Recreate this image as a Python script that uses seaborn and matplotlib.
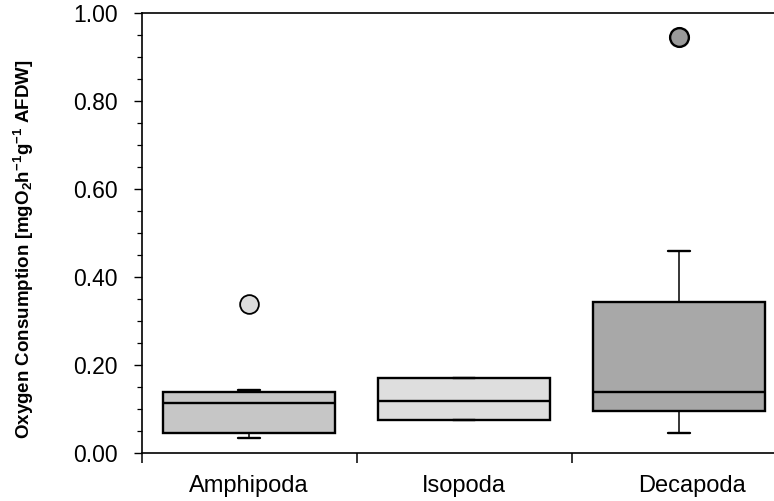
import numpy as np
import pandas as pd
import matplotlib
matplotlib.use("Agg")
import matplotlib.pyplot as plt
from matplotlib.ticker import FixedLocator, MultipleLocator, FormatStrFormatter
import seaborn as sns

# ---- data ----
categories = ["Amphipoda", "Isopoda", "Decapoda"]
amphipoda = [0.033, 0.040, 0.045, 0.090, 0.113, 0.125, 0.139, 0.143, 0.338]
isopoda = [0.075, 0.075, 0.119, 0.170, 0.170]
decapoda = [0.045, 0.070, 0.096, 0.120, 0.138, 0.250, 0.344, 0.460, 0.947]
y_ticks = [0.0, 0.2, 0.4, 0.6, 0.8, 1.0]

box_colors = ["#c6c6c6", "#dedede", "#a8a8a8"]
flier_colors = ["#dcdcdc", "#9a9a9a"]

df = pd.DataFrame({
    "group": (["Amphipoda"] * len(amphipoda) + ["Isopoda"] * len(isopoda)
              + ["Decapoda"] * len(decapoda)),
    "value": amphipoda + isopoda + decapoda,
})

sns.set_theme(style="ticks")
plt.rcParams["font.family"] = ["Liberation Sans", "DejaVu Sans"]
plt.rcParams["mathtext.default"] = "regular"

fig = plt.figure(figsize=(7.74, 5.01), dpi=100)
W, H = 774, 501
left_px, right_px, top_px, bot_px = 141.7, 776.0, 13.3, 453.0
ax = fig.add_axes([left_px / W, 1 - bot_px / H, (right_px - left_px) / W,
                   (bot_px - top_px) / H])

sns.boxplot(data=df, x="group", y="value", hue="group", order=categories,
            hue_order=categories, palette=box_colors, legend=False,
            width=0.8, linewidth=1.7, linecolor="black", whis=1.5,
            fliersize=13.5, capwidths=0.1,
            whiskerprops={"linewidth": 1.1}, ax=ax)

# style fliers
fl = [l for l in ax.lines if l.get_marker() == "o" and len(l.get_xdata()) > 0]
for i, line in enumerate(fl):
    line.set_markerfacecolor(flier_colors[min(i, len(flier_colors) - 1)])
    line.set_markeredgecolor("black")
    line.set_markeredgewidth(1.7 if i else 1.3)

ax.set_xlim(-0.5, 2.45)
ax.set_ylim(0, 1.0)

ax.yaxis.set_major_locator(FixedLocator(y_ticks))
ax.yaxis.set_minor_locator(MultipleLocator(0.05))
ax.yaxis.set_major_formatter(FormatStrFormatter("%.2f"))
ax.tick_params(axis="y", which="major", direction="out", length=6, width=1,
               pad=11, labelsize=16.5, color="black", labelcolor="black")
ax.tick_params(axis="y", which="minor", direction="out", length=3.5, width=0.9,
               color="black")

ax.xaxis.set_major_locator(FixedLocator([0, 1, 2.06]))
ax.set_xticklabels(categories)
ax.xaxis.set_minor_locator(FixedLocator([-0.5, 0.5, 1.5]))
ax.tick_params(axis="x", which="major", length=0, pad=16, labelsize=17,
               labelcolor="black")
ax.tick_params(axis="x", which="minor", direction="out", length=7, width=1.1,
               color="black")

ax.set_xlabel("")
ax.set_ylabel("Oxygen Consumption [mgO$_2$h$^{-1}$g$^{-1}$ AFDW]",
              fontsize=13.5, fontweight="bold", color="black")
ax.yaxis.set_label_coords(-0.167, 0.464)

for side in ["left", "top", "bottom"]:
    ax.spines[side].set_visible(True)
    ax.spines[side].set_color("black")
    ax.spines[side].set_linewidth(1.2)
ax.spines["right"].set_visible(False)
ax.set_facecolor("white")
fig.patch.set_facecolor("white")

fig.savefig("out.png", dpi=100, facecolor="white")
